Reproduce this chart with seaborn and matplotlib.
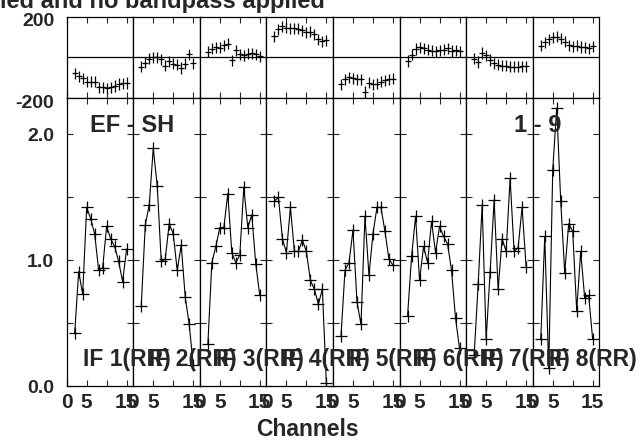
import numpy as np
import pandas as pd
import matplotlib
matplotlib.use("Agg")
import matplotlib.pyplot as plt
import matplotlib.transforms as mtransforms
import seaborn as sns
from matplotlib.path import Path

# ---------------- data ----------------
channels = list(range(2, 16))
if_labels = ["IF 1(RR)", "IF 2(RR)", "IF 3(RR)", "IF 4(RR)",
             "IF 5(RR)", "IF 6(RR)", "IF 7(RR)", "IF 8(RR)"]

amp_if1 = [0.42, 0.91, 0.73, 1.42, 1.33, 1.21, 0.92, 0.94, 1.27, 1.17, 1.11, 0.99, 0.83, 1.09]
amp_if2 = [0.64, 1.28, 1.44, 1.89, 1.59, 0.99, 1.01, 1.29, 1.21, 0.92, 1.12, 0.71, 0.49, 0.17]
amp_if3 = [0.33, 0.98, 1.11, 1.26, 1.26, 1.53, 1.06, 0.98, 1.04, 1.58, 1.26, 1.36, 0.97, 0.72]
amp_if4 = [1.47, 1.50, 1.17, 1.06, 1.42, 1.07, 1.07, 1.16, 1.07, 0.84, 0.77, 0.65, 0.77, 0.02]
amp_if5 = [0.40, 0.92, 0.98, 1.24, 0.67, 0.49, 1.35, 0.88, 1.21, 1.42, 1.42, 1.23, 1.01, 0.96]
amp_if6 = [0.56, 1.03, 1.35, 0.84, 1.11, 0.98, 1.31, 1.06, 1.27, 1.19, 1.13, 0.92, 0.54, 0.30]
amp_if7 = [0.25, 0.81, 1.44, 0.37, 0.91, 1.48, 0.77, 1.17, 1.07, 1.65, 1.07, 1.10, 1.42, 0.95]
amp_if8 = [0.37, 1.19, 0.14, 1.72, 2.21, 1.47, 0.90, 1.29, 1.23, 0.60, 1.07, 0.70, 0.72, 0.37]

phase_if1 = [-79, -92, -103, -120, -120, -120, -148, -148, -152, -148, -141, -131, -128, -126]
phase_if2 = [-45, -25, -5, 0, 0, -8, -40, -18, -30, -35, -52, -30, 15, -28]
phase_if3 = [28, 44, 50, 48, 60, 68, -13, 36, 16, 10, 18, 20, 15, 6]
phase_if4 = [105, 140, 155, 148, 145, 145, 142, 135, 125, 128, 115, 90, 80, 85]
phase_if5 = [-133, -108, -97, -103, -108, -108, -170, -125, -133, -130, -120, -113, -108, -105]
phase_if6 = [-17, 13, 42, 50, 45, 38, 33, 30, 35, 38, 45, 32, 35, 30]
phase_if7 = [-5, -22, 22, 10, -12, -28, -36, -40, -40, -45, -45, -46, -44, -44]
phase_if8 = [58, 75, 90, 100, 103, 92, 78, 60, 55, 58, 52, 50, 45, 55]

amp_ticks = [0.0, 0.5, 1.0, 1.5, 2.0]
amp_tick_labels = ["0.0", "", "1.0", "", "2.0"]
phase_ticks = [-200, 200]
phase_tick_labels = ["-200", "200"]
chan_ticks = [0, 5, 10, 15]
chan_tick_labels = ["0", "5", "", "15"]

title_text = "ied and no bandpass applied"
baseline_label = "EF - SH"
time_label = "1 - 9"
x_label = "Channels"

amps = [amp_if1, amp_if2, amp_if3, amp_if4, amp_if5, amp_if6, amp_if7, amp_if8]
phases = [phase_if1, phase_if2, phase_if3, phase_if4, phase_if5, phase_if6, phase_if7, phase_if8]
rows = []
for lab, a, p in zip(if_labels, amps, phases):
    for c, av, pv in zip(channels, a, p):
        rows.append({"IF": lab, "channel": c, "amp": av, "phase": pv})
df = pd.DataFrame(rows)

# ---------------- style ----------------
sns.set_style("white")
plt.rcParams["font.family"] = ["Liberation Sans", "DejaVu Sans"]
plt.rcParams["font.weight"] = "bold"
plt.rcParams["axes.linewidth"] = 0.9

W, H = 642, 440
fig = plt.figure(figsize=(W / 100, H / 100), dpi=100)

left0 = 66.7
pw = 66.58
ph_top, ph_bot = 17, 98
am_top, am_bot = 98, 386

phase_marker = Path([(-0.55, 0), (0.55, 0), (0, -1), (0, 1)],
                    [Path.MOVETO, Path.LINETO, Path.MOVETO, Path.LINETO])
label_shift = mtransforms.ScaledTranslation(0, -0.03, fig.dpi_scale_trans)

for i, lab in enumerate(if_labels):
    sub = df[df["IF"] == lab]
    x0 = (left0 + i * pw) / W
    # phase panel
    axp = fig.add_axes([x0, 1 - ph_bot / H, pw / W, (ph_bot - ph_top) / H])
    axp.axhline(0, color="black", lw=0.9)
    sns.scatterplot(data=sub, x="channel", y="phase", ax=axp, marker=phase_marker,
                    s=65, color="black", edgecolor="black", facecolor="none",
                    linewidth=0.9, legend=False)
    axp.set_xlim(0, 16.67)
    axp.set_ylim(-200, 200)
    axp.set_xticks(chan_ticks)
    axp.set_xticklabels([])
    axp.tick_params(axis="x", direction="in", length=4, width=0.8, top=True, bottom=True)
    axp.set_yticks(phase_ticks)
    axp.tick_params(axis="y", length=0, pad=9)
    if i == 0:
        axp.set_yticklabels(phase_tick_labels, fontsize=14, fontweight="bold")
        for t in axp.get_yticklabels():
            t.set_va("center_baseline")
            t.set_transform(t.get_transform() + label_shift)
    else:
        axp.set_yticklabels([])
    axp.set_xlabel("")
    axp.set_ylabel("")
    for s in axp.spines.values():
        s.set_color("black")

    # amplitude panel
    axa = fig.add_axes([x0, 1 - am_bot / H, pw / W, (am_bot - am_top) / H])
    sns.lineplot(data=sub, x="channel", y="amp", ax=axa, color="black", lw=0.8,
                 marker="+", markersize=8, markeredgewidth=0.9, markeredgecolor="black",
                 legend=False)
    axa.set_xlim(0, 16.67)
    axa.set_ylim(0, 2.29)
    axa.set_xticks(chan_ticks)
    axa.set_xticklabels(chan_tick_labels, fontsize=15, fontweight="bold")
    axa.set_yticks(amp_ticks)
    axa.tick_params(axis="both", direction="in", length=4.3, width=0.8,
                    top=True, right=True, bottom=True, left=True)
    axa.tick_params(axis="y", pad=9)
    axa.tick_params(axis="x", pad=5)
    if i == 0:
        axa.set_yticklabels(amp_tick_labels, fontsize=14, fontweight="bold")
        for t in axa.get_yticklabels():
            t.set_va("center_baseline")
    else:
        axa.set_yticklabels([])
    axa.set_xlabel("")
    axa.set_ylabel("")
    for s in axa.spines.values():
        s.set_color("black")

# labels inside panels (drawn over all panels, overlapping like the original)
for i, lab in enumerate(if_labels):
    fig.text((82.7 + i * pw) / W, 1 - 357 / H, lab, fontsize=16.5, fontweight="bold",
             ha="left", va="center_baseline")
fig.text(90 / W, 1 - 123 / H, baseline_label, fontsize=17, fontweight="bold",
         ha="left", va="center_baseline")
fig.text(514 / W, 1 - 123 / H, time_label, fontsize=17, fontweight="bold",
         ha="left", va="center_baseline")
fig.text(307 / W, 1 - 427 / H, x_label, fontsize=16.5, fontweight="bold",
         ha="center", va="center_baseline")
fig.text(0.0, 1 - 8 / H, title_text, fontsize=17, fontweight="bold",
         ha="left", va="baseline")

fig.savefig("out.png", dpi=100)
